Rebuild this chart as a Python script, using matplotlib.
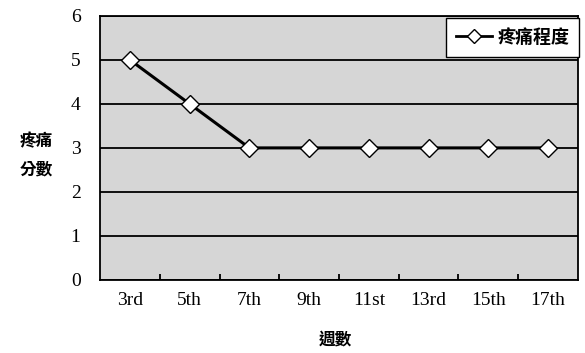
import matplotlib
matplotlib.use("Agg")
import matplotlib.pyplot as plt
import numpy as np

weeks = ["3rd", "5th", "7th", "9th", "11st", "13rd", "15th", "17th"]
pain = [5, 4, 3, 3, 3, 3, 3, 3]
series_name = "疼痛程度"
y_label = "疼痛\n分數"
x_label = "週數"

cjk = ["Noto Sans CJK TC", "DejaVu Sans"]
serif = ["Liberation Serif", "DejaVu Serif"]

fig = plt.figure(figsize=(5.85, 3.53), dpi=100)
ax = fig.add_axes([0.171, 0.207, 0.817, 0.748])
ax.set_facecolor("#d6d6d6")

x = np.arange(len(weeks))
ax.plot(x, pain, color="black", lw=2.2, marker="D", markersize=9,
        markerfacecolor="white", markeredgecolor="black", markeredgewidth=1.0,
        label=series_name, zorder=3)

ax.set_xlim(-0.5, len(weeks) - 0.5)
ax.set_ylim(0, 6)
ax.set_yticks(range(0, 7))
ax.yaxis.grid(True, color="black", lw=1.3)
ax.set_axisbelow(True)

ax.set_xticks(x)
ax.set_xticklabels(weeks, fontfamily=serif, fontsize=14)
ax.set_xticks(np.arange(0.5, len(weeks) - 0.5), minor=True)
ax.tick_params(axis="x", which="major", length=0, pad=9)
ax.tick_params(axis="x", which="minor", direction="in", length=4, width=1.3)
ax.tick_params(axis="y", length=0, pad=14)
for lab in ax.get_yticklabels():
    lab.set_fontfamily(serif)
    lab.set_fontsize(14)

for s in ax.spines.values():
    s.set_linewidth(1.3)
    s.set_color("black")

fig.text(0.062, 0.56, y_label, family=cjk, fontsize=12, fontweight="bold",
         ha="center", va="center", linespacing=1.7)
fig.text(0.573, 0.035, x_label, family=cjk, fontsize=12, fontweight="bold",
         ha="center", va="center")

leg = ax.legend(loc="upper right", bbox_to_anchor=(1.006, 1.0),
                prop={"family": cjk, "size": 13, "weight": "bold"},
                frameon=True, fancybox=False, edgecolor="black",
                facecolor="white", framealpha=1, borderpad=0.55,
                handlelength=2.0, handletextpad=0.3, borderaxespad=0.1)
leg.get_frame().set_linewidth(1.0)
for h in leg.legend_handles:
    h.set_linewidth(2.0)
    h.set_markersize(7)

fig.savefig("out.png", dpi=100)
